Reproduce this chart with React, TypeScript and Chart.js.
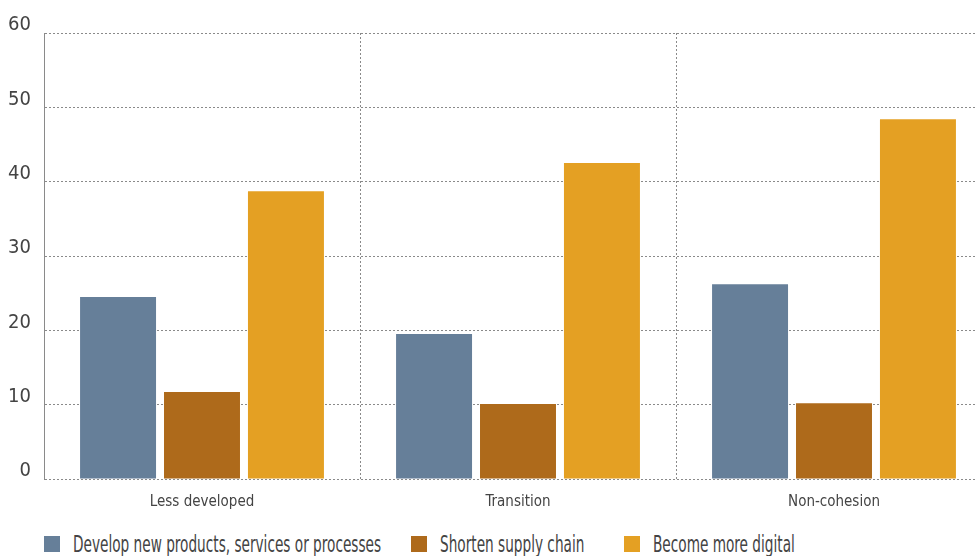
import React, { useEffect, useRef } from "react";
import { Chart, registerables } from "chart.js";

Chart.register(...registerables);

const categories = ["Less developed", "Transition", "Non-cohesion"];
const seriesNames = [
  "Develop new products, services or processes",
  "Shorten supply chain",
  "Become more digital",
];
const developValues = [24.5, 19.5, 26.2];
const shortenValues = [11.7, 10.1, 10.2];
const digitalValues = [38.7, 42.5, 48.4];
const colors = ["#667f99", "#ae6a1b", "#e4a023"];
const yTicks = [0, 10, 20, 30, 40, 50, 60];

const FONT = "'DejaVu Sans Condensed', sans-serif";
const GRID = "#8a8a8a";
const legendBoxX = [44, 411, 624];

export default function App() {
  const ref = useRef<HTMLCanvasElement>(null);
  useEffect(() => {
    if (!ref.current) return;
    const chart = new Chart(ref.current, {
      type: "bar",
      data: {
        labels: categories,
        datasets: [developValues, shortenValues, digitalValues].map((d, i) => ({
          label: seriesNames[i],
          data: d,
          backgroundColor: colors[i],
          borderWidth: 0,
          categoryPercentage: 0.797,
          barPercentage: 0.905,
        })),
      },
      options: {
        responsive: false,
        animation: false,
        layout: { padding: { top: 33, right: 8, left: 0, bottom: 0 } },
        plugins: { legend: { display: false }, tooltip: { enabled: false } },
        scales: {
          x: {
            offset: true,
            grid: { display: true, offset: true, color: GRID, drawTicks: false },
            border: { display: false, dash: [2, 2] },
            ticks: { color: "#444", font: { family: FONT, size: 15 }, padding: 14 },
            afterFit: (s: any) => { s.height = 36; },
          },
          y: {
            min: 0,
            max: 60,
            afterBuildTicks: (s: any) => { s.ticks = yTicks.map((v) => ({ value: v })); },
            grid: { color: GRID, drawTicks: false },
            border: { display: true, color: GRID, dash: [2, 2] },
            ticks: { color: "#444", font: { family: FONT, size: 20 }, padding: 13, labelOffset: -8 },
            afterFit: (s: any) => { s.width = 44; },
          },
        },
      },
    });
    return () => chart.destroy();
  }, []);

  return (
    <div style={{ position: "fixed", left: 0, top: 0, width: 977, height: 556, overflow: "hidden", background: "#fff" }}>
      <canvas ref={ref} width={1000} height={515} style={{ display: "block" }} />
      {seriesNames.map((n, i) => (
        <div key={n} style={{ position: "absolute", left: legendBoxX[i], top: 530, height: 28, display: "flex", alignItems: "center", fontFamily: FONT, fontSize: 23, color: "#444", whiteSpace: "nowrap" }}>
          <span style={{ width: 16, height: 16, background: colors[i], display: "inline-block", marginRight: 13, flex: "none" }} />
          <span style={{ display: "inline-block", transform: "scaleX(0.66)", transformOrigin: "left center" }}>{n}</span>
        </div>
      ))}
    </div>
  );
}
